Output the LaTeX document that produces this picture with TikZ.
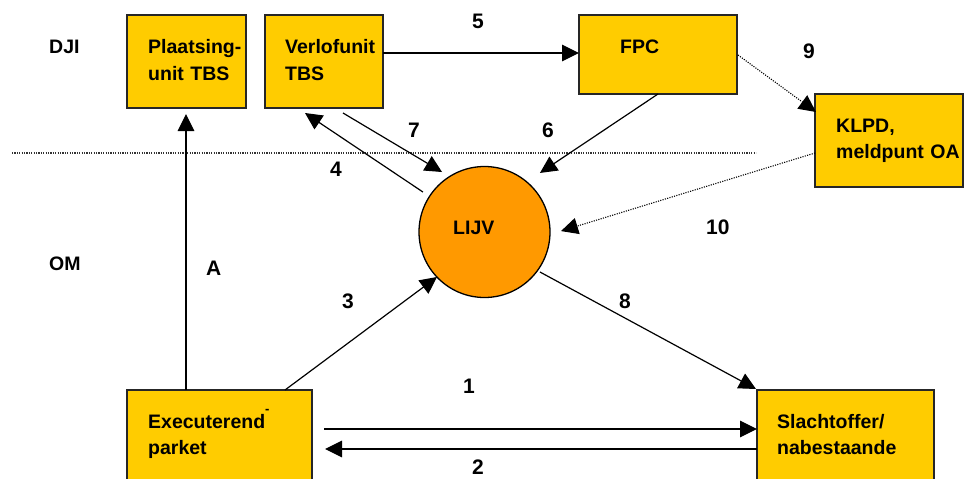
\documentclass[tikz,border=0pt]{standalone}
\usepackage{fontspec}
\setmainfont{Liberation Sans}
\usetikzlibrary{arrows.meta,calc}
\definecolor{boxgold}{HTML}{FFCC00}
\definecolor{circor}{HTML}{FF9900}
\begin{document}
\begin{tikzpicture}[x=1pt,y=-1pt,
  box/.style={draw=black!85, line width=1.3pt, fill=boxgold, anchor=north west, outer sep=0pt, inner sep=0pt},
  txt/.style={font=\fontsize{19.5}{27}\selectfont\bfseries, anchor=base west, inner sep=0pt, align=left, text width=160pt},
  txtb/.style={txt, font=\fontsize{19.5}{26}\selectfont\bfseries},
  lbl/.style={font=\fontsize{21}{24}\selectfont\bfseries, anchor=base west, inner sep=0pt},
  arr/.style={line width=1.2pt, -{Triangle[length=17pt,width=16.5pt]}},
  dotarr/.style={line width=1.1pt, dash pattern=on 1.1pt off 1.3pt, -{Triangle[length=17pt,width=16.5pt]}},
  sepline/.style={line width=1.1pt, dash pattern=on 1.1pt off 1.3pt, black!80},
]
\useasboundingbox (0,0) rectangle (964,479);
\clip (0,0) rectangle (964,479);
\fill[white] (0,0) rectangle (964,479);

% separator
\draw[sepline] (12,153) -- (756,153);

% boxes
\node[box, minimum width=119, minimum height=93] (plaats) at (127,15) {};
\node[box, minimum width=118, minimum height=93] (verl) at (265,15) {};
\node[box, minimum width=158, minimum height=79] (fpc) at (579,15) {};
\node[box, minimum width=148, minimum height=93] (klpd) at (815,94) {};
\node[box, minimum width=185, minimum height=120] (exec) at (127,390) {};
\node[box, minimum width=177, minimum height=120] (slach) at (757,390) {};
\node[draw=black, line width=1.3pt, fill=circor, circle, minimum size=131, inner sep=0pt, outer sep=0pt] (lijv) at (484.5,232) {};

% box texts
\node[txt] (plaats-t) at (148,53) {Plaatsing-\\unit TBS};
\node[txt] (verl-t) at (285,53) {Verlofunit\\TBS};
\node[txt] (fpc-t) at (620,53) {FPC};
\node[txtb] (klpd-t) at (836,132) {KLPD,\\meldpunt OA};
\node[txtb] (exec-t) at (148,428) {Executerend\raisebox{14.5pt}{\fontsize{13}{13}\selectfont -}\\parket};
\node[txtb] (slach-t) at (777,428) {Slachtoffer/\\nabestaande};
\node[lbl, font=\fontsize{19.5}{24}\selectfont\bfseries] (lijv-t) at (453,234) {LIJV};

% side labels
\node[lbl, font=\fontsize{19.5}{24}\selectfont\bfseries] (dji) at (49,53) {DJI};
\node[lbl, font=\fontsize{19.5}{24}\selectfont\bfseries] (om) at (49,270) {OM};

% connectors
\draw[arr] ($(exec.north west)+(59,0)$) -- ($(plaats.south west)+(59,6)$);
\draw[arr] ($(verl.north east)+(0,38)$) -- ($(fpc.north west)+(0,38)$);
\draw[arr] ($(verl.south west)+(78,5)$) -- ($(lijv.center)+(-125.3:73.5)$);
\draw[arr] ($(lijv.center)+(-147:73.4)$) -- ($(verl.south west)+(40,5)$);
\draw[arr] ($(fpc.south west)+(79,0)$) -- ($(lijv.center)+(-46.8:81)$);
\draw[dotarr] ($(fpc.north east)+(1,40)$) -- ($(klpd.north west)+(1,18)$);
\draw[dotarr] ($(klpd.north west)+(0,59)$) -- ($(lijv.center)+(-0.7:76.5)$);
\draw[arr] ($(exec.north west)+(158,0)$) -- ($(lijv.center)+(136.55:65.4)$);
\draw[arr] ($(lijv.center)+(35.8:68.4)$) -- ($(slach.north west)+(-1,-1)$);
\draw[arr] ($(exec.north east)+(12,39)$) -- ($(slach.north west)+(0,39)$);
\draw[arr] ($(slach.north west)+(0,59)$) -- ($(exec.north east)+(13,59)$);

% connector labels
\node[lbl] (l5) at (472,28) {5};
\node[lbl] (l9) at (803,58) {9};
\node[lbl] (l7) at (408,137) {7};
\node[lbl] (l6) at (542,137) {6};
\node[lbl] (l4) at (330,176) {4};
\node[lbl] (l10) at (706,234) {10};
\node[lbl] (lA) at (206,275) {A};
\node[lbl] (l3) at (342,308) {3};
\node[lbl] (l8) at (619,308) {8};
\node[lbl] (l1) at (463,393) {1};
\node[lbl] (l2) at (472,474) {2};
\end{tikzpicture}
\end{document}
